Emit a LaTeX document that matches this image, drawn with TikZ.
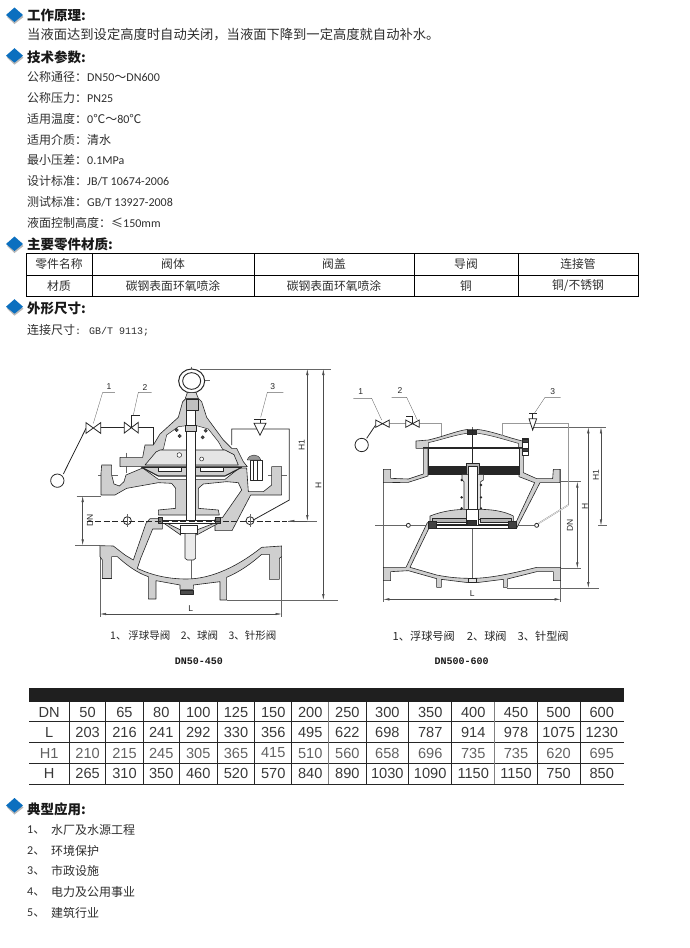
\documentclass[tikz,border=0pt]{standalone}
\usepackage{fontspec}
\setmainfont{Carlito}
\newfontfamily\cjk{Noto Sans CJK SC}
\newfontfamily\helv{Liberation Sans}
\newfontfamily\typew{Liberation Mono}
\usetikzlibrary{arrows.meta}
\definecolor{markblue}{HTML}{0B6FBF}
\definecolor{castgray}{HTML}{CFCFCF}
\definecolor{inkline}{HTML}{262626}
\tikzset{
  bullet/.pic={\fill[black!28] (-7.5,2) -- (0,-5) -- (9,2) -- (0,9) -- cycle;
               \fill[markblue] (-8.5,0) -- (0,-7.5) -- (8.5,0) -- (0,7) -- cycle;},
  headline/.style={anchor=west,inner sep=0pt,text=black!90,font=\fontsize{13.5}{16}\selectfont\cjk\bfseries},
  bodyline/.style={anchor=west,inner sep=0pt,text=black!82,font=\fontsize{12}{14}\selectfont},
  cellcn/.style={inner sep=0pt,text=black!82,font=\fontsize{11.8}{14}\selectfont\cjk},
  cellnum/.style={inner sep=0pt,text=black!78,font=\fontsize{14.6}{17}\selectfont\helv},
  castbody/.style={draw=inkline,fill=castgray,line width=.6pt,line join=round},
  hollow/.style={draw=inkline,fill=white,line width=.5pt,line join=round},
  dimline/.style={draw=black!60,line width=.35pt},
  dimarrow/.style={draw=black!70,line width=.4pt,{Latex[length=6pt,width=2.4pt]}-{Latex[length=6pt,width=2.4pt]}},
  pipeline/.style={draw=inkline,line width=.8pt},
  greypipe/.style={draw=black!40,line width=1.1pt},
  dimtext/.style={inner sep=0pt,text=black!85,font=\fontsize{8.5}{10}\selectfont\helv},
  capline/.style={inner sep=0pt,text=black!85,font=\fontsize{10.5}{12}\selectfont\cjk},
  captype/.style={inner sep=0pt,text=black!90,font=\fontsize{10}{12}\selectfont\typew\bfseries},
  halfscale/.style={x=.33333pt,y=-.33333pt},
}
\newcommand\cn[1]{{\cjk #1}}
\begin{document}
\begin{tikzpicture}[x=1pt,y=-1pt]
\useasboundingbox (0,0) rectangle (689,948);

% section heads
\foreach \yy/\yt/\tname/\tt in {15/15/hd1/工作原理,55.7/57/hd2/技术参数,244/244.5/hd3/主要零件材质,306.7/308/hd4/外形尺寸,805.5/809/hd5/典型应用}{
  \pic at (14.5,\yy) {bullet};
  \node[headline] (\tname) at (27,\yt) {\tt:};
}
\node[bodyline,font=\fontsize{13.3}{15}\selectfont\cjk] (work) at (27,35) {当液面达到设定高度时自动关闭，当液面下降到一定高度就自动补水。};

% parameters
\node[bodyline] (par1) at (27,77) {\cn{公称通径：}DN50\cn{～}DN600};
\node[bodyline] (par2) at (27,98) {\cn{公称压力：}PN25};
\node[bodyline] (par3) at (27,119) {\cn{适用温度：}0\cn{℃～}80\cn{℃}};
\node[bodyline] (par4) at (27,139.5) {\cn{适用介质：清水}};
\node[bodyline] (par5) at (27,160) {\cn{最小压差：}0.1MPa};
\node[bodyline] (par6) at (27,181) {\cn{设计标准：}JB/T 10674-2006};
\node[bodyline] (par7) at (27,202) {\cn{测试标准：}GB/T 13927-2008};
\node[bodyline] (par8) at (27,223) {\cn{液面控制高度：≤}150mm};

% material table
\draw[black,line width=.8pt] (26,253.3) rectangle (638,296);
\draw[black,line width=.8pt] (26,275) -- (638,275);
\foreach \xx in {92,254,414,518.3}{\draw[black,line width=.8pt] (\xx,253.3) -- (\xx,296);}
\foreach \xx/\nn/\aa/\bb in {59/c1/零件名称/材质,173/c2/阀体/碳钢表面环氧喷涂,334/c3/阀盖/碳钢表面环氧喷涂,466/c4/导阀/铜,578/c5/连接管/{铜/不锈钢}}{
  \node[cellcn] (\nn a) at (\xx,264) {\aa};
  \node[cellcn] (\nn b) at (\xx,286) {\bb};
}
\node[bodyline] (conn) at (27,330) {\cn{连接尺寸}{\typew\fontsize{10}{12}\selectfont:\hspace{8pt}GB/T 9113;}};

% ---- left valve DN50-450, numbers read off at 3 times size
\begin{scope}[shift={(30,360)},halfscale]
  % centre and dimension lines
  \draw[dimline] (483,20) -- (483,100) (445,62) -- (540,62) (483,598) -- (483,660);
  \draw[dimline] (205,345) -- (265,345) (715,345) -- (772,345) (290,278) -- (290,340);
  \draw[dimline] (210,560) -- (210,770) (755,590) -- (755,770);
  \draw[dimline] (140,408) -- (213,408) (135,556) -- (210,556);
  \draw[dimline] (510,27) -- (902,27) (590,720) -- (925,720);
  \draw[dimline] (775,483) -- (860,483);
  \draw[dimarrow] (158,408) -- (158,556);
  \draw[dimarrow] (832,27) -- (832,483);
  \draw[dimarrow] (880,27) -- (880,720);
  \draw[dimarrow] (210,762) -- (755,762);
  % lower body
  \draw[castbody] (210,557) -- (250,558) -- (285,585) -- (310,600) -- (348,490) -- (360,476) -- (385,476) -- (397,490) -- (397,507) -- (368,507) -- (332,595) -- (322,625) .. controls (370,648) and (420,657) .. (470,657) .. controls (545,657) and (625,618) .. (695,562) -- (755,558) -- (755,590) -- (748,595) -- (748,658) -- (718,658) -- (718,583) -- (695,583) .. controls (665,610) and (630,635) .. (590,652) -- (590,720) -- (570,720) -- (570,665) -- (490,675) -- (490,688) -- (450,688) -- (450,675) -- (378,662) -- (378,717) -- (355,717) -- (355,650) .. controls (320,638) and (290,615) .. (262,590) -- (245,590) -- (245,655) -- (217,655) -- (217,600) -- (210,590) -- cycle;
  \draw[hollow,fill=black!70] (452,690) rectangle (490,702);
  \draw[line width=1.6pt,inkline] (217,655) -- (245,655);
  % upper body with flanges and stem support
  \draw[castbody] (213,405) -- (213,340) -- (215,315) -- (245,315) -- (245,345) -- (252,372) -- (268,378) -- (282,365) -- (288,345) -- (338,324) -- (385,358) -- (585,358) -- (628,324) -- (650,324) -- (655,395) -- (700,395) -- (725,375) -- (725,320) -- (755,320) -- (755,405) -- (662,405) -- (606,512) -- (555,512) -- (555,478) -- (578,472) -- (635,390) -- (625,368) -- (590,365) -- (520,372) -- (505,385) -- (505,445) -- (565,450) -- (568,465) -- (385,465) -- (385,450) -- (437,445) -- (437,385) -- (425,370) -- (385,368) -- (290,385) -- (255,405) -- cycle;
  % bonnet
  \draw[castbody] (270,292) -- (338,292) -- (345,255) -- (370,255) -- (390,222) -- (445,172) -- (458,125) -- (468,115) -- (505,115) -- (515,125) -- (530,172) -- (580,240) -- (605,265) -- (620,265) -- (640,305) -- (652,320) -- (270,320) -- cycle;
  \draw[hollow] (378,276) -- (400,268) -- (410,225) -- (445,200) -- (470,197) -- (500,197) -- (535,207) -- (565,245) -- (578,268) -- (612,284) -- cycle;
  \draw[castbody,fill=black!10] (378,276) -- (390,270) -- (585,270) -- (612,284) -- (625,315) -- (345,315) -- cycle;
  % diaphragm
  \draw[castbody,line width=1.1pt] (335,322) -- (385,348) -- (585,348) -- (635,322) -- cycle;
  \draw[hollow] (385,322) rectangle (455,335) (510,322) rectangle (580,335);
  \draw[line width=1.4pt,inkline] (400,335) -- (450,335) (515,335) -- (565,335);
  % bolt on the right
  \draw[hollow] (662,300) rectangle (696,360);
  \draw[inkline,fill=black!40] (652,300) .. controls (656,280) and (688,280) .. (692,300) -- cycle;
  \draw[inkline,line width=1pt] (670,300) -- (670,360) (684,300) -- (684,360);
  % valve disc
  \draw[castbody] (402,490) -- (452,525) -- (452,510) -- (412,490) -- cycle;
  \draw[castbody] (565,490) -- (500,525) -- (500,510) -- (552,490) -- cycle;
  \draw[hollow,line width=.9pt] (395,480) rectangle (570,490);
  \draw[castbody,fill=black!55] (385,472) -- (398,472) -- (398,490) -- (385,490) -- cycle;
  \draw[castbody,fill=black!55] (555,472) -- (572,472) -- (572,490) -- (555,490) -- cycle;
  % stem
  \draw[hollow] (470,125) rectangle (497,480);
  \draw[hollow] (452,496) rectangle (502,520);
  \draw[castbody,fill=black!8] (465,520) -- (497,520) -- (497,595) -- (490,600) -- (472,600) -- (465,595) -- cycle;
  \draw[castbody,fill=black!20] (465,195) rectangle (500,215);
  \draw[castbody,fill=black!25] (468,118) rectangle (505,150);
  \draw[inkline,fill=black!70] (440,210) circle[radius=5] (527,212) circle[radius=5];
  \draw[inkline,fill=black!70] (449,228) circle[radius=5] (518,232) circle[radius=5];
  \draw[hollow] (448,285) circle[radius=7] (515,297) circle[radius=6];
  % lifting eye
  \draw[castbody,fill=white,line width=1pt] (485,63) circle[x radius=39,y radius=36];
  \draw[hollow,line width=.9pt] (485,63) circle[x radius=27,y radius=25];
  \draw[castbody,fill=black!15] (472,98) -- (498,98) -- (505,115) -- (466,115) -- cycle;
  % float pipework
  \draw[pipeline] (212,203) -- (283,203) (325,203) -- (370,203) -- (370,255);
  \draw[pipeline] (605,255) -- (605,207) -- (778,207) -- (778,420) -- (670,480);
  \draw[pipeline] (168,205) -- (100,342);
  \draw[pipeline,fill=white] (82,362) circle[radius=20];
  \draw[pipeline,fill=white] (168,188) -- (212,220) -- (212,188) -- (168,220) -- cycle;
  \draw[pipeline,fill=white] (283,187) -- (325,219) -- (325,187) -- (283,219) -- cycle;
  \draw[pipeline] (303,203) -- (303,165) -- (330,165);
  \draw[pipeline,fill=white] (672,190) -- (708,190) -- (690,226) -- cycle;
  \draw[pipeline] (672,178) -- (708,178) (690,178) -- (690,190);
  % leaders
  \draw[dimline] (190,190) -- (218,97) -- (255,97);
  \draw[dimline] (310,165) -- (325,97) -- (365,97);
  \draw[dimline] (692,172) -- (712,97) -- (760,97);
  \node[dimtext] (lno1) at (237,81) {1};
  \node[dimtext] (lno2) at (345,82) {2};
  \node[dimtext] (lno3) at (728,81) {3};
  % dashed axis with the two tap holes
  \draw[inkline,line width=.5pt,dash pattern=on 6pt off 2.5pt] (170,483) -- (772,483);
  \draw[-{Latex[length=6pt,width=2.4pt]},draw=black!70,line width=.4pt] (830,483) -- (775,483);
  \draw[hollow,fill=none,line width=.8pt] (292,482) circle[radius=12] (660,482) circle[radius=12];
  \draw[dimline] (292,462) -- (292,502) (660,462) -- (660,502);
  \node[dimtext,rotate=90] (ldn) at (180,480) {DN};
  \node[dimtext,rotate=90] (lh1) at (815,255) {H1};
  \node[dimtext,rotate=90] (lh) at (865,375) {H};
  \node[dimtext] (ll) at (482,745) {L};
  \node[capline] (lcap) at (490,826) {1、\,浮球导阀\quad 2、球阀\quad 3、针形阀};
  \node[captype] (lsize) at (507,905) {DN50-450};
\end{scope}

% ---- right valve DN500-600
\begin{scope}[shift={(340,370)},halfscale]
  \draw[dimline] (397,172) -- (397,640);
  \draw[dimline] (105,466) -- (590,466) (775,466) -- (800,466);
  \draw[dimline] (130,298) -- (130,695) (662,298) -- (662,695);
  \draw[dimline] (580,172) -- (797,172) (600,335) -- (724,335) (590,595) -- (724,595) (500,654) -- (778,654);
  \draw[dimarrow] (745,172) -- (745,654);
  \draw[dimarrow] (783,172) -- (783,466);
  \draw[dimarrow] (712,335) -- (712,595);
  \draw[dimarrow] (130,688) -- (662,688);
  % body halves
  \draw[castbody] (130,298) -- (152,298) -- (152,325) -- (205,327) -- (250,312) -- (250,235) -- (264,235) -- (264,318) -- (205,337) -- (130,338) -- cycle;
  \draw[castbody] (537,235) -- (550,235) -- (550,308) -- (590,326) -- (638,326) -- (640,298) -- (660,298) -- (660,338) -- (600,338) -- (530,474) -- (520,474) -- (584,338) -- (537,320) -- cycle;
  \draw[castbody] (130,592) -- (198,592) -- (262,458) -- (278,458) -- (278,472) -- (268,472) -- (210,592) -- (290,615) .. controls (330,623) and (360,625) .. (397,625) .. controls (440,625) and (500,615) .. (590,592) -- (662,592) -- (662,632) -- (640,632) -- (640,605) -- (590,605) -- (502,627) -- (502,652) -- (490,652) -- (490,628) -- (410,638) -- (385,638) -- (304,628) -- (304,652) -- (290,652) -- (290,626) -- (205,602) -- (152,605) -- (152,632) -- (130,632) -- cycle;
  \draw[hollow,fill=black!10] (386,625) rectangle (408,638);
  % cover
  \draw[castbody] (228,235) -- (228,213) -- (265,210) .. controls (310,200) and (350,182) .. (385,178) -- (410,178) .. controls (450,182) and (490,198) .. (535,210) -- (556,215) -- (556,235) -- cycle;
  \draw[hollow] (265,232) -- (265,218) .. controls (310,208) and (350,192) .. (397,188) .. controls (445,192) and (490,208) .. (535,220) -- (535,232) -- cycle;
  \draw[inkline,line width=1.3pt] (250,233) -- (556,233);
  \draw[hollow] (264,234) rectangle (537,290);
  \draw[inkline,fill=black!85] (264,290) rectangle (537,314);
  \draw[inkline,fill=black!82] (382,182) rectangle (410,192);
  \draw[inkline,line width=1.1pt] (397,178) -- (397,290);
  % piston hub and guide
  \draw[castbody,fill=black!30] (378,280) -- (418,280) -- (418,320) -- (378,320) -- cycle;
  \draw[castbody,fill=black!12] (366,314) -- (430,314) -- (430,330) -- (422,335) -- (422,418) -- (372,418) -- (372,335) -- (366,330) -- cycle;
  \draw[hollow] (385,288) rectangle (412,418);
  \fill[inkline] (365,330) circle[radius=4] (365,382) circle[radius=4] (365,415) circle[radius=4] (423,345) circle[radius=4] (423,382) circle[radius=4] (423,415) circle[radius=4];
  % disc
  \draw[castbody] (270,438) .. controls (310,422) and (350,418) .. (380,418) -- (416,418) .. controls (450,418) and (490,422) .. (520,438) -- (520,462) -- (270,462) -- cycle;
  \draw[hollow] (290,448) rectangle (505,462);
  \draw[castbody,fill=black!30] (278,445) -- (378,445) -- (378,458) -- (278,458) -- cycle;
  \draw[castbody,fill=black!30] (420,445) -- (515,445) -- (515,458) -- (420,458) -- cycle;
  \draw[hollow] (380,418) rectangle (416,470);
  \draw[inkline,fill=black!80] (383,450) rectangle (410,474);
  \draw[hollow,line width=.9pt] (280,466) rectangle (516,474);
  \draw[inkline,fill=black!75] (266,455) rectangle (290,474);
  \draw[inkline,fill=black!75] (505,455) rectangle (528,474);
  % cover bolt
  \draw[hollow] (546,205) rectangle (566,255);
  \draw[inkline,fill=black!75] (546,207) rectangle (566,216) (546,235) rectangle (566,243);
  % pipes
  \draw[greypipe] (148,160) -- (197,160) (238,160) -- (305,160) -- (305,198);
  \draw[greypipe] (488,198) -- (488,160) -- (685,160) -- (685,405);
  \draw[draw=black!45,double=white,double distance=.5pt,line width=.4pt] (685,405) -- (596,460);
  \draw[pipeline] (107,165) -- (80,205);
  \draw[pipeline,fill=white] (65,225) circle[radius=20];
  \draw[pipeline,fill=white] (107,150) -- (148,172) -- (148,150) -- (107,172) -- cycle;
  \draw[pipeline,fill=white] (197,150) -- (238,172) -- (238,150) -- (197,172) -- cycle;
  \draw[pipeline] (217,160) -- (217,140) -- (197,140);
  \draw[pipeline,fill=white] (567,146) -- (590,146) -- (578,180) -- cycle;
  \draw[pipeline] (567,130) -- (590,130) (578,130) -- (578,146);
  % leaders
  \draw[dimline] (125,150) -- (95,85) -- (40,85);
  \draw[dimline] (232,150) -- (200,82) -- (155,82);
  \draw[dimline] (583,130) -- (615,82) -- (662,82);
  \node[dimtext] (rno1) at (62,65) {1};
  \node[dimtext] (rno2) at (180,62) {2};
  \node[dimtext] (rno3) at (638,65) {3};
  \draw[hollow,line width=.8pt] (205,466) circle[radius=6] (590,466) circle[radius=6];
  \node[dimtext,rotate=90] (rdn) at (690,465) {DN};
  \node[dimtext,rotate=90] (rh1) at (768,315) {H1};
  \node[dimtext,rotate=90] (rh) at (735,410) {H};
  \node[dimtext] (rl) at (397,670) {L};
  \node[capline,font=\fontsize{11.2}{13}\selectfont\cjk] (rcap) at (422,800) {1、浮球号阀\hspace{12pt}2、球阀\hspace{11pt}3、针型阀};
  \node[captype] (rsize) at (365,875) {DN500-600};
\end{scope}

% dimension table
\fill[black!88] (29,688) rectangle (623.5,702);
\foreach \yy in {721.7,742.7,763.3,784}{\draw[inkline,line width=.7pt] (29,\yy) -- (623.5,\yy);}
\foreach \xl/\xr/\dn/\ll/\ha/\hb in {29/69.5/DN/L/H1/H,69.5/105.7/50/203/210/265,105.7/143.3/65/216/215/310,143.3/179.3/80/241/245/350,179.3/217.3/100/292/305/460,217.3/254.7/125/330/365/520,254.7/291.7/150/356/415/570,291.7/328.7/200/495/510/840,328.7/366/250/622/560/890,366/408.7/300/698/658/1030,408.7/451.7/350/787/696/1090,451.7/494.7/400/914/735/1150,494.7/537.3/450/978/735/1150,537.3/580/500/1075/620/750,580/623.5/600/1230/695/850}{
  \node[cellnum] (n\xl a) at ({(\xl+\xr)/2},712) {\dn};
  \node[cellnum] (n\xl b) at ({(\xl+\xr)/2},732.5) {\ll};
  \node[cellnum,text=black!62] (n\xl c) at ({(\xl+\xr)/2},753) {\ha};
  \node[cellnum] (n\xl d) at ({(\xl+\xr)/2},773.5) {\hb};
}
\foreach \xx in {69.5,105.7,143.3,179.3,217.3,254.7,291.7,366,408.7,451.7,537.3,580}{\draw[inkline,line width=.7pt] (\xx,702) -- (\xx,784);}
\foreach \xx in {328.7,494.7}{\draw[black!50,line width=.7pt] (\xx,702) -- (\xx,784);}

% applications
\foreach \yy/\nn/\tt in {830/1/水厂及水源工程,851/2/环境保护,871/3/市政设施,892/4/电力及公用事业,913/5/建筑行业}{
  \node[bodyline] (app\nn) at (27,\yy) {\nn\cn{、}};
  \node[bodyline] (apt\nn) at (51,\yy) {\cn{\tt}};
}
\end{tikzpicture}
\end{document}
